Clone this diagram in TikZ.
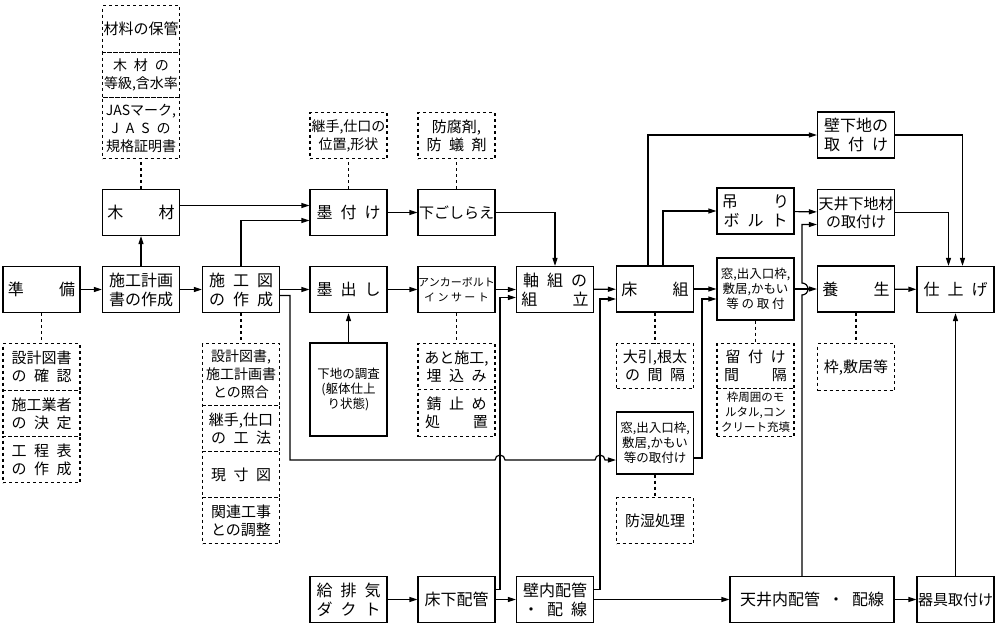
\documentclass[tikz,border=0pt]{standalone}
\usepackage{fontspec}
\setmainfont{Noto Sans CJK JP}
\usetikzlibrary{positioning,arrows.meta}

\begin{document}
\begin{tikzpicture}[x=1pt,y=-1pt,line width=1.2pt,
box/.style={draw,rectangle,minimum width=77pt,minimum height=46pt,inner sep=0pt,align=center,font=\fontsize{16}{19}\selectfont},
note/.style={draw,dashed,rectangle,anchor=north,minimum width=77pt,inner sep=0pt,align=center,font=\fontsize{15}{18}\selectfont},
sm/.style={font=\fontsize{12.5}{15}\selectfont},
arr/.style={-{Triangle[length=8pt,width=5pt]}},
link/.style={dashed}]
\useasboundingbox (0,0) rectangle (1000,627);
% main boxes
\node[box] (jyunbi) at (41.5,289.5) {準\hspace{2.2em}備};
\node[box] (keikaku) at (141,289.5) {施工計画\\書の作成};
\node[box] (mokuzai) at (141,212.5) {木\hspace{2.2em}材};
\node[box] (sekozu) at (241,289.5) {施\enspace 工\enspace 図\\の\enspace 作\enspace 成};
\node[box] (sumitsuke) at (348.5,212.5) {墨\enspace 付\enspace け};
\node[box] (sumidashi) at (348.5,289.5) {墨\enspace 出\enspace し};
\node[box,minimum height=93pt,sm] (chosa) at (348.5,389.5) {下地の調査\\(躯体仕上\\り状態)};
\node[box,font=\fontsize{15}{18}\selectfont] (shitagoshirae) at (456.5,212.5) {下ごしらえ};
\node[box,font=\fontsize{11}{15}\selectfont] (anchor) at (456.5,289.5) {アンカーボルト\\イ ン サ ー ト};
\node[box] (jikugumi) at (555,289.5) {軸\enspace 組\enspace の\\組\hspace{2.2em}立};
\node[box] (yukagumi) at (655,289) {床\hspace{2.2em}組};
\node[box] (tsuri) at (755.5,211) {吊\hspace{2.2em}り\\ボ\enspace ル\enspace ト};
\node[box,minimum height=62pt,sm] (mado) at (755.5,289) {窓,出入口枠,\\敷居,かもい\\等 の 取 付};
\node[box,minimum height=62pt,sm] (mado2) at (655,443) {窓,出入口枠,\\敷居,かもい\\等の取付け};
\node[box] (kabeshita) at (856,135) {壁下地の\\取\enspace 付\enspace け};
\node[box,font=\fontsize{15}{18}\selectfont] (tenjoshita) at (856,212.5) {天井下地材\\の取付け};
\node[box] (yojo) at (856,289) {養\hspace{2.2em}生};
\node[box] (shiage) at (955.5,289.5) {仕\enspace 上\enspace げ};
\node[box] (kyuhaiki) at (348.5,599.5) {給\enspace 排\enspace 気\\ダ\enspace ク\enspace ト};
\node[box] (yukashita) at (456.5,599.5) {床下配管};
\node[box] (kabenai) at (555,599.5) {壁内配管\\・\enspace 配\enspace 線};
\node[box,minimum width=164pt] (tenjonai) at (812,599.5) {天井内配管\enspace ・\enspace 配線};
\node[box,font=\fontsize{15}{18}\selectfont] (kigu) at (955.5,599.5) {器具取付け};
% dashed notes
\node[note,minimum height=47pt] (hokan) at (141,5) {材料の保管};
\node[note,minimum height=45pt,font=\fontsize{14}{18}\selectfont] (toukyu) at (141,52) {木\enspace 材\enspace の\\等級,含水率};
\node[note,minimum height=61pt,font=\fontsize{14}{18}\selectfont] (jas) at (141,97) {JASマーク,\\J\enspace A\enspace S\enspace の\\規格証明書};
\node[note,minimum height=46pt,font=\fontsize{14}{18}\selectfont] (tsugite) at (348.5,112) {継手,仕口の\\位置,形状};
\node[note,minimum height=46pt] (bofu) at (456.5,112) {防腐剤,\\防\enspace 蟻\enspace 剤};
\node[note,minimum height=47pt] (kakunin) at (41.5,343) {設計図書\\の\enspace 確\enspace 認};
\node[note,minimum height=46pt] (gyosha) at (41.5,390) {施工業者\\の\enspace 決\enspace 定};
\node[note,minimum height=46pt] (koutei) at (41.5,436) {工\enspace 程\enspace 表\\の\enspace 作\enspace 成};
\node[note,minimum height=62pt,font=\fontsize{14}{18}\selectfont] (shogo) at (241,343) {設計図書,\\施工計画書\\との照合};
\node[note,minimum height=46pt] (kouho) at (241,405) {継手,仕口\\の\enspace 工\enspace 法};
\node[note,minimum height=46pt] (gensun) at (241,451) {現\enspace 寸\enspace 図};
\node[note,minimum height=46pt] (kanren) at (241,497) {関連工事\\との調整};
\node[note,minimum height=46pt] (atosekou) at (456.5,343) {あと施工,\\埋\enspace 込\enspace み};
\node[note,minimum height=47pt] (sabidome) at (456.5,389) {錆\enspace 止\enspace め\\処\hspace{2.2em}置};
\node[note,minimum height=45pt] (kankaku) at (655,343) {大引,根太\\の\enspace 間\enspace 隔};
\node[note,minimum height=45pt] (tomezuke) at (755.5,343) {留\enspace 付\enspace け\\間\hspace{2.2em}隔};
\node[note,minimum height=48pt,font=\fontsize{11.5}{15}\selectfont] (juten) at (755.5,388) {枠周囲のモ\\ルタル,コン\\クリート充填};
\node[note,minimum height=46pt] (boshitsu) at (655,497) {防湿処理};
\node[note,minimum height=47pt] (waku) at (856,343) {枠,敷居等};
% dashed links
\draw[link] (mokuzai) -- (jas);
\draw[link] (sumitsuke) -- (tsugite);
\draw[link] (shitagoshirae) -- (bofu);
\draw[link] (jyunbi) -- (kakunin);
\draw[link] (sekozu) -- (shogo);
\draw[link] (anchor) -- (atosekou);
\draw[link] (yukagumi) -- (kankaku);
\draw[link] (mado) -- (tomezuke);
\draw[link] (mado2) -- (boshitsu);
\draw[link] (yojo) -- (waku);
% flow
\draw[arr] (jyunbi) -- (keikaku);
\draw[arr] (keikaku) -- (mokuzai);
\draw[arr] (keikaku) -- (sekozu);
\draw[arr] ([yshift=7pt]mokuzai.east) -- ([yshift=7pt]sumitsuke.west);
\draw[arr] (sekozu.north) |- ([yshift=-8pt]sumitsuke.west);
\draw[arr] (sekozu) -- (sumidashi);
\draw[arr] (chosa) -- (sumidashi);
\draw[arr] (sumitsuke) -- (shitagoshirae);
\draw[arr] (sumidashi) -- (anchor);
\draw[arr] (shitagoshirae.east) -| (jikugumi.north);
\draw[arr] (anchor) -- (jikugumi);
\draw[arr] ([yshift=-6pt]sekozu.east) -- (290,295.5) -- (290,460) -- (495,460)
  arc (180:360:5) -- (595,460) arc (180:360:5) -- (mado2.west |- 0,460);
\draw[arr] ([yshift=10pt]yukashita.east) -- (500,589.5) |- ([yshift=-8pt]jikugumi.west);
\draw[arr] ([yshift=10pt]kabenai.east) -- (600,589.5) |- ([yshift=-10pt]yukagumi.west);
\draw[arr] (jikugumi) -- (yukagumi);
\draw[arr] ([xshift=-7pt]yukagumi.north) |- (kabeshita.west);
\draw[arr] ([xshift=8pt]yukagumi.north) |- (tsuri.west);
\draw[arr] (yukagumi) -- (mado);
\draw[arr] ([yshift=-15pt]mado2.east) -- (702,458) |- ([yshift=-10pt]mado.west);
\draw[arr] (tsuri) -- (tenjoshita);
\draw[arr] ([xshift=-10pt]tenjonai.north) -- (802,295) arc (90:-90:6) |- ([yshift=-12pt]tenjoshita.west);
\draw[arr] (mado) -- (yojo);
\draw[arr] (yojo) -- (shiage);
\draw[arr] (kabeshita.east) -| ([xshift=7pt]shiage.north);
\draw[arr] (tenjoshita.east) -| ([xshift=-7pt]shiage.north);
\draw[arr] (kyuhaiki) -- (yukashita);
\draw[arr] (yukashita) -- (kabenai);
\draw[arr] (kabenai) -- (tenjonai);
\draw[arr] (tenjonai) -- (kigu);
\draw[arr] (kigu) -- (shiage);
\end{tikzpicture}
\end{document}
